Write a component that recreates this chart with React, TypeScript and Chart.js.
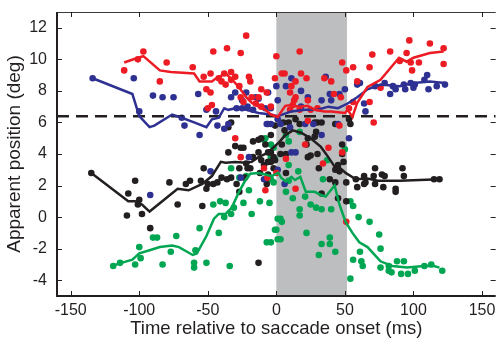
import React, { useEffect, useRef } from "react";
import { Chart, registerables } from "chart.js";
Chart.register(...registerables);

type P = [number, number];

const xTicks = [-150, -100, -50, 0, 50, 100, 150];
const yTicks = [-4, -2, 0, 2, 4, 6, 8, 10, 12];
const xTitle = "Time relative to saccade onset (ms)";
const yTitle = "Apparent position (deg)";
const bandStart = 0;
const bandEnd = 51.5;
const refLevel = 6.4;

const redLine: P[] = [[-111,9.8],[-101,10.1],[-97,10.2],[-85,9.3],[-77,9.2],[-60,9.1],[-56,8.6],[-47,8.6],[-44,8.8],[-37,9.1],[-32,8.7],[-27,8.2],[-22,7.6],[-18,7.25],[-13,7.0],[-8,6.8],[-4,6.5],[1,6.35],[6.5,7.05],[11,7.1],[16,7.0],[23,7.05],[28,6.8],[35,6.7],[40,6.7],[50,6.6],[52,6.8],[55.5,6.35],[59,7.25],[66.5,8.25],[76,8.7],[89.5,10.1],[95,9.85],[100,10.1],[112,10.4],[122,10.5]];
const blueLine: P[] = [[-134,8.8],[-105,7.8],[-100,6.4],[-92.5,5.7],[-89,5.8],[-76,6.5],[-69,6.3],[-60,6.0],[-51,5.7],[-47,6.2],[-42,6.3],[-38,6.9],[-35,6.8],[-30,6.9],[-22,6.8],[-13,6.6],[-4,6.5],[1,6.4],[11,6.7],[21,6.8],[30,6.8],[38,7.0],[45,6.9],[52,7.2],[59,7.6],[66.5,8.1],[76,8.4],[90,8.3],[100,8.5],[112,8.6],[123,8.5]];
const blackLine: P[] = [[-135,2.8],[-108,1.0],[-103,1.0],[-98,0.8],[-92.5,0.35],[-72,1.8],[-64,1.7],[-54,2.1],[-47,2.6],[-40.5,3.5],[-37,3.45],[-30,3.5],[-22,3.45],[-18,3.5],[-13,3.8],[-8,4.0],[-3.5,4.3],[1.5,4.7],[6.5,5.2],[12,5.5],[18,5.35],[25,5.0],[32.5,4.45],[37.5,3.85],[42.5,3.2],[46,3.15],[50.5,2.8],[58,2.4],[66.5,2.45],[74,2.3],[90,2.3],[119,2.4]];
const greenLine: P[] = [[-120,-3.1],[-113,-2.9],[-105,-2.7],[-100,-2.3],[-92.5,-2.1],[-85,-1.9],[-76,-1.8],[-71,-1.9],[-61,-2.4],[-58,-2.3],[-51,-1.2],[-45.5,-0.1],[-42,0.2],[-37,0.2],[-32.5,0.6],[-27.5,1.55],[-22.5,2.35],[-19,2.75],[-13,2.8],[-8,2.7],[-3.5,2.6],[1.5,2.8],[3.5,2.5],[7,2.25],[11,2.55],[13.5,2.35],[17.5,2.55],[21.5,1.6],[28,1.6],[32.5,1.4],[36,1.3],[42.5,2.0],[46,0.8],[50.5,-0.3],[55.5,-1.0],[60.5,-1.6],[66.5,-1.9],[76,-2.8],[84.5,-3.1],[95.5,-3.2],[107.5,-3.1],[115,-3.1],[119,-3.2]];

const redPts: P[] = [[-111,9.3],[-101,10.0],[-97,10.5],[-80,9.8],[-85,8.6],[-61,9.5],[-53,8.9],[-48,9.1],[-46,10.5],[-36,10.7],[-26,10.4],[-22,11.5],[-33,9.2],[-38,9.1],[-42,8.8],[-40,8.6],[-37,8.4],[-33,8.7],[-30,8.9],[-51,8.1],[-48,7.9],[-47,7.1],[-50,6.9],[-27,8.3],[-20,8.9],[-19,8.6],[-26,7.6],[-24,7.3],[-18,7.6],[-15,7.2],[-13,7.6],[-11,8.1],[-7,7.9],[-11,7.0],[-4,7.0],[-1,8.8],[0,10.2],[-30,5.0],[-26,3.8],[-9,3.1],[-6.5,2.5],[-8,1.7],[0,2.8],[4,9.1],[17,10.5],[6,9.1],[18,9.1],[22,8.8],[14,8.6],[11,8.3],[10,7.9],[14,7.6],[13,7.4],[23,7.4],[12,7.1],[10,6.8],[17,6.8],[25,6.8],[30,6.9],[35,8.8],[40,8.6],[42,7.8],[48,9.8],[51,9.3],[56,9.5],[47,7.6],[56,7.3],[53,6.9],[59,8.6],[68,9.5],[70,10.3],[68,7.3],[71,6.0],[76,8.2],[83,10.5],[97,11.2],[95,10.4],[90,9.9],[98,9.8],[99,9.3],[104,9.8],[112,11.0],[122,10.7],[122,9.7],[21,4.6],[38,4.4],[48,4.1],[34,3.4],[14,1.8],[7,3.7],[51,-0.3],[23,6.1],[46,5.8]];
const bluePts: P[] = [[-134,8.8],[-104,8.8],[-100,6.7],[-90,7.7],[-83,7.6],[-75,7.6],[-69,6.3],[-67,5.8],[-57,7.8],[-56,5.2],[-51,6.8],[-43,5.8],[-38,5.6],[-33,7.6],[-30,7.9],[-29,6.9],[-25,7.4],[-22,7.9],[-21,7.0],[-17,6.8],[-15,7.6],[-13,7.5],[-8,6.9],[-7,5.9],[0,8.3],[-6,7.9],[-20,3.8],[-44,6.7],[-25,6.9],[-4,6.9],[1,7.4],[11,8.8],[18,8.0],[23,7.6],[36,8.9],[39,7.8],[40,7.4],[46,7.8],[50,8.1],[59,8.4],[61,8.5],[64,7.2],[65,6.7],[72,8.3],[79,8.5],[83,7.8],[85,8.3],[87,8.1],[93,8.4],[94,8.1],[98,8.5],[100,8.2],[101,8.4],[108,8.7],[110,9.0],[111,8.1],[117,8.3],[123,8.4],[53,5.0],[33,5.2],[11,4.1],[14,4.1],[6,2.1],[-4,5.9],[3,5.9],[10,5.7],[21,5.9],[27,5.9],[45,5.9],[-48,2.9],[-26,2.5],[-9,2.4],[-92,1.4],[-35,5.9],[1,3.0],[7,8.3],[33,7.4],[18,7.0],[1,6.2]];
const blackPts: P[] = [[-135,2.8],[-103,2.3],[-108,1.5],[-100,1.1],[-101,0.8],[-109,0.1],[-98,0.2],[-92,-0.7],[-78,2.2],[-72,0.8],[-66,2.1],[-63,2.3],[-55,2.3],[-51,1.8],[-53,3.1],[-54,0.7],[-43,2.2],[-40,2.5],[-36,2.4],[-33,2.5],[-35,4.1],[-30,4.5],[-26,4.4],[-24,4.4],[-22,3.4],[-19,3.1],[-23,2.5],[-27,1.6],[-17,4.8],[-13,4.9],[-11,5.0],[-13,4.1],[-11,3.6],[-9,3.3],[-7,2.1],[-1,3.6],[-17,3.8],[-13,-2.9],[-27,3.1],[-21,3.1],[-12,2.8],[-6,4.1],[-2,3.8],[-2,3.1],[-6,2.7],[-50,2.1],[-46,2.1],[-29,2.1],[-33,6.0],[-35,5.7],[-4,4.1],[-8,4.6],[-6,5.9],[-1,5.8],[5,6.0],[9,6.0],[14,6.2],[17,5.9],[28,6.0],[30,6.0],[33,6.0],[43,5.9],[53,6.2],[54,5.9],[29,5.4],[28,5.1],[23,5.0],[-4,5.2],[4,4.6],[7,4.0],[3,4.0],[25,3.9],[30,4.0],[48,4.6],[48,4.0],[22,4.6],[-6,3.5],[23,3.8],[49,3.5],[45,3.3],[43,3.0],[46,2.9],[39,2.4],[43,2.2],[31,3.1],[7,2.8],[-4,3.5],[33,1.5],[45,1.2],[51,2.2],[51,1.0],[58,2.4],[59,1.9],[64,2.6],[65,2.2],[64,2.1],[72,3.1],[71,2.6],[72,2.1],[77,2.7],[79,2.6],[78,1.9],[87,1.8],[87,1.6],[92,3.1],[93,2.6],[115,2.4],[119,2.4],[6,5.5]];
const greenPts: P[] = [[-119,-3.1],[-114,-2.9],[-103,-3.0],[-100,-1.9],[-99,-2.6],[-90,-1.3],[-87,-1.3],[-83,-3.0],[-77,-2.2],[-73,-1.2],[-60,-2.9],[-60,-3.2],[-59,-2.1],[-56,-0.7],[-51,-2.9],[-46,0.8],[-41,1.0],[-42,-1.0],[-38,0.0],[-37,0.9],[-34,-3.1],[-33,3.1],[-33,0.2],[-31,0.6],[-24,0.9],[-20,1.7],[-18,0.2],[-12,1.0],[-5,0.9],[-7,-1.6],[-27,2.5],[-22,2.6],[-8,5.0],[-4,4.6],[-2,2.2],[0,-0.8],[1,-0.1],[1,-1.4],[-9,4.9],[-4,3.8],[-1,3.7],[7,5.2],[17,5.4],[9,4.8],[-2,4.4],[9,3.3],[16,2.9],[9,2.3],[-4,2.4],[7,1.6],[12,1.2],[21,1.3],[25,0.8],[17,0.5],[17,0.1],[29,0.6],[33,0.5],[40,0.5],[34,2.4],[37,3.6],[50,4.3],[3,-0.1],[4,-0.3],[-1,-0.8],[-4,-1.6],[3,-1.4],[22,-1.0],[33,-1.7],[39,-1.3],[39,-1.7],[31,-2.4],[43,-2.2],[54,1.0],[56,0.7],[60,0.0],[68,-0.3],[75,-1.1],[76,-2.0],[56,-2.7],[61,-2.2],[62,-2.8],[63,-3.1],[54,-3.9],[76,-3.2],[82,-3.4],[84,-3.5],[88,-2.8],[93,-2.8],[91,-3.6],[96,-3.6],[101,-3.4],[108,-3.1],[113,-3.0],[121,-3.4],[82,-3.1]];

const RED = "#ed1c24";
const BLUE = "#2e3192";
const BLACK = "#231f20";
const GREEN = "#00a651";
const TEXT = "#231f20";
const FONT = "'Liberation Sans', Arial, Helvetica, sans-serif";

const xy = (a: P[]) => a.map(([x, y]) => ({ x, y }));

const lineDs = (data: P[], color: string, order: number) => ({
  data: xy(data), showLine: true, borderColor: color, borderWidth: 2.5,
  pointRadius: 0, tension: 0, order, fill: false,
});
const ptDs = (data: P[], color: string, order: number) => ({
  data: xy(data), showLine: false, backgroundColor: color, borderWidth: 0,
  pointRadius: 3.3, pointHoverRadius: 3.3, order,
});

const framePlugin = {
  id: "frame",
  beforeDatasetsDraw(chart: any) {
    const { ctx, chartArea: a, scales } = chart;
    const x0 = scales.x.getPixelForValue(bandStart);
    const x1 = scales.x.getPixelForValue(bandEnd);
    ctx.save();
    ctx.fillStyle = "#bcbec0";
    ctx.fillRect(x0, a.top, x1 - x0, a.bottom - a.top);
    ctx.restore();
  },
  afterDatasetsDraw(chart: any) {
    const { ctx, chartArea: a, scales } = chart;
    ctx.save();
    ctx.strokeStyle = "#3a3a3a";
    ctx.lineWidth = 1;
    ctx.beginPath();
    ctx.moveTo(a.left, a.top + 0.5);
    ctx.lineTo(a.right, a.top + 0.5);
    ctx.stroke();
    ctx.strokeStyle = TEXT;
    ctx.beginPath();
    for (const v of xTicks) {
      const px = Math.round(scales.x.getPixelForValue(v)) + 0.5;
      ctx.moveTo(px, a.bottom); ctx.lineTo(px, a.bottom - 5);
      ctx.moveTo(px, a.top); ctx.lineTo(px, a.top + 5);
    }
    for (const v of yTicks) {
      const py = Math.round(scales.y.getPixelForValue(v)) + 0.5;
      ctx.moveTo(a.left, py); ctx.lineTo(a.left + 5, py);
      ctx.moveTo(a.right, py); ctx.lineTo(a.right - 5, py);
    }
    ctx.stroke();
    ctx.lineWidth = 2;
    ctx.strokeStyle = BLACK;
    ctx.beginPath();
    ctx.moveTo(a.left, a.top);
    ctx.lineTo(a.left, a.bottom);
    ctx.lineTo(a.right, a.bottom);
    ctx.stroke();
    ctx.restore();
  },
};

export default function App() {
  const ref = useRef<HTMLCanvasElement | null>(null);
  useEffect(() => {
    if (!ref.current) return;
    const tickFont = { family: FONT, size: 16 };
    const titleFont = { family: FONT, size: 18.5 };
    const yTitleFont = { family: FONT, size: 19 };
    const chart = new Chart(ref.current, {
      type: "scatter",
      data: {
        datasets: [
          lineDs(redLine, RED, 1),
          lineDs(blueLine, BLUE, 2),
          lineDs(blackLine, BLACK, 3),
          lineDs(greenLine, GREEN, 4),
          {
            data: [{ x: -160, y: refLevel }, { x: 160, y: refLevel }],
            showLine: true, borderColor: BLACK, borderWidth: 2.5, borderDash: [12, 7],
            pointRadius: 0, order: 5,
          },
          ptDs(redPts, RED, 6),
          ptDs(bluePts, BLUE, 7),
          ptDs(blackPts, BLACK, 8),
          ptDs(greenPts, GREEN, 9),
        ] as any,
      },
      options: {
        animation: false,
        responsive: false,
        maintainAspectRatio: false,
        layout: { padding: { left: 0, right: 1, top: 12, bottom: 0 } },
        plugins: { legend: { display: false }, tooltip: { enabled: false } },
        scales: {
          x: {
            type: "linear", min: -160, max: 160,
            afterBuildTicks: (s: any) => { s.ticks = xTicks.map((v) => ({ value: v })); },
            afterFit: (s: any) => { s.height = 45; s.paddingLeft = 0; s.paddingRight = 0; },
            grid: { display: false, drawTicks: false },
            border: { display: false },
            ticks: { padding: 5, font: tickFont, color: TEXT, maxRotation: 0, autoSkip: false, callback: (v: any) => String(v) },
            title: { display: true, text: xTitle, font: titleFont, color: TEXT, padding: { top: 0, bottom: 1 } },
          },
          y: {
            type: "linear", min: -5, max: 13,
            afterBuildTicks: (s: any) => { s.ticks = yTicks.map((v) => ({ value: v })); },
            afterFit: (s: any) => { s.width = 57; s.paddingTop = 0; s.paddingBottom = 0; },
            grid: { display: false, drawTicks: false },
            border: { display: false },
            ticks: { padding: 10, font: tickFont, color: TEXT, autoSkip: false, callback: (v: any) => String(v) },
            title: { display: true, text: yTitle, font: yTitleFont, color: TEXT, padding: { top: 3, bottom: 0 } },
          },
        },
      } as any,
      plugins: [framePlugin],
    });
    return () => chart.destroy();
  }, []);
  return (
    <div style={{ position: "absolute", left: 0, top: 0, width: 499, height: 341, background: "#fff" }}>
      <canvas ref={ref} width={499} height={341} style={{ width: 499, height: 341, display: "block" }} />
    </div>
  );
}
